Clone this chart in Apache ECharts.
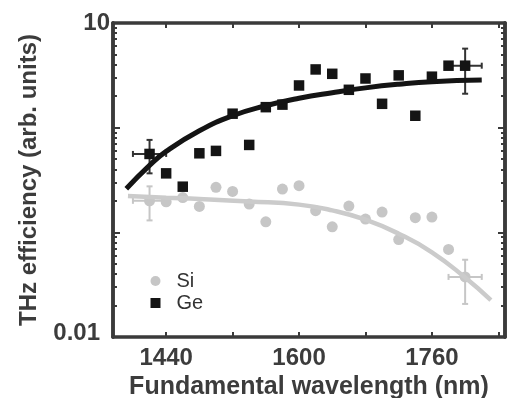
<!DOCTYPE html>
<html>
<head>
<meta charset="utf-8">
<script src="https://cdn.jsdelivr.net/npm/echarts@6/dist/echarts.min.js"></script>
<style>
  html, body { margin: 0; padding: 0; background: #fff; }
  #chart { width: 507px; height: 398px; }
</style>
</head>
<body>
<div id="chart"></div>
<script>
// measured points (nm)
var wavelengths = [1420, 1440, 1460, 1480, 1500, 1520, 1540, 1560, 1580, 1600,
                   1620, 1640, 1660, 1680, 1700, 1720, 1740, 1760, 1780, 1800];
var siValues = [0.200, 0.196, 0.215, 0.177, 0.269, 0.246, 0.186, 0.126, 0.259, 0.279,
                0.161, 0.113, 0.178, 0.134, 0.156, 0.0853, 0.138, 0.140, 0.0687, 0.0375];
var geValues = [0.561, 0.366, 0.273, 0.569, 0.600, 1.36, 0.684, 1.57, 1.66, 2.53,
                3.60, 3.27, 2.30, 2.95, 1.69, 3.16, 1.30, 3.07, 3.91, 3.91];

// error bars: [wavelength, value, +/- nm, low, high]
var siErrors = [[1420, 0.200, 20, 0.130, 0.275], [1800, 0.0375, 20, 0.0207, 0.0547]];
var geErrors = [[1420, 0.561, 20, 0.366, 0.764], [1800, 3.91, 20, 2.11, 5.69]];

// fitted curves
var siFitX = [1394, 1440, 1480, 1540, 1600, 1640, 1680, 1720, 1760, 1800, 1831];
var siFitY = [0.222, 0.214, 0.208, 0.197, 0.184, 0.162, 0.132, 0.097, 0.0645, 0.037, 0.0225];
var geFitX = [1392, 1420, 1440, 1480, 1520, 1560, 1600, 1640, 1680, 1720, 1760, 1820];
var geFitY = [0.261, 0.436, 0.593, 0.933, 1.30, 1.62, 1.91, 2.16, 2.40, 2.60, 2.75, 2.85];

// ticks
var xTicks = [1440, 1520, 1600, 1680, 1760, 1840];
var xLabels = [1440, 1600, 1760];
var yLabels = [0.01, 10];
var yMajor = [0.1, 1];
var yMinor = [0.02, 0.03, 0.04, 0.05, 0.06, 0.07, 0.08, 0.09,
              0.2, 0.3, 0.4, 0.5, 0.6, 0.7, 0.8, 0.9,
              2, 3, 4, 5, 6, 7, 8, 9];

var font = 'Liberation Sans, Arial, sans-serif';
var frame = '#3a3a3a';
var textColor = '#3c3c3c';
var siColor = '#c6c6c6';
var geColor = '#141414';

function zip(xs, ys) {
  return xs.map(function (x, i) { return [x, ys[i]]; });
}

function errorBars(color) {
  return function (params, api) {
    var x = api.value(0), y = api.value(1), dx = api.value(2);
    var c = api.coord([x, y]);
    var l = api.coord([x - dx, y]);
    var r = api.coord([x + dx, y]);
    var b = api.coord([x, api.value(3)]);
    var t = api.coord([x, api.value(4)]);
    var cap = 3;
    var st = { stroke: color, lineWidth: 2 };
    return {
      type: 'group',
      children: [
        { type: 'line', shape: { x1: l[0], y1: c[1], x2: r[0], y2: c[1] }, style: st },
        { type: 'line', shape: { x1: c[0], y1: t[1], x2: c[0], y2: b[1] }, style: st },
        { type: 'line', shape: { x1: l[0], y1: c[1] - cap, x2: l[0], y2: c[1] + cap }, style: st },
        { type: 'line', shape: { x1: r[0], y1: c[1] - cap, x2: r[0], y2: c[1] + cap }, style: st },
        { type: 'line', shape: { x1: c[0] - cap, y1: t[1], x2: c[0] + cap, y2: t[1] }, style: st },
        { type: 'line', shape: { x1: c[0] - cap, y1: b[1], x2: c[0] + cap, y2: b[1] }, style: st }
      ]
    };
  };
}

function xAxis(pos, withLabels) {
  return {
    type: 'value', position: pos, min: 1376, max: 1848,
    name: withLabels ? 'Fundamental wavelength (nm)' : '',
    nameLocation: 'middle', nameGap: 30,
    nameTextStyle: { fontFamily: font, fontSize: 25, fontWeight: 'bold', color: textColor },
    axisLine: { show: true, lineStyle: { color: frame, width: 3.5 } },
    axisTick: { show: true, inside: true, length: 5, customValues: xTicks, lineStyle: { color: frame, width: 2 } },
    axisLabel: {
      show: withLabels, customValues: xLabels, margin: 9,
      fontFamily: font, fontSize: 24, fontWeight: 'bold', color: textColor,
      formatter: function (v) { return String(v); }
    },
    splitLine: { show: false }
  };
}

function yAxis(pos, ticks, len, withLabels) {
  return {
    type: 'log', logBase: 10, position: pos, min: 0.01, max: 10,
    name: withLabels ? 'THz efficiency (arb. units)' : '',
    nameLocation: 'middle', nameGap: 72,
    nameTextStyle: { fontFamily: font, fontSize: 24, fontWeight: 'bold', color: textColor },
    axisLine: { show: true, lineStyle: { color: frame, width: 3.5 } },
    axisTick: { show: true, inside: true, length: len, customValues: ticks, lineStyle: { color: frame, width: 2 } },
    axisLabel: {
      show: withLabels, customValues: yLabels, margin: 3,
      fontFamily: font, fontSize: 24, fontWeight: 'bold', color: textColor,
      formatter: function (v) { return v < 0.1 ? '{lo|0.01}' : '{hi|10}'; },
      rich: {
        lo: { fontFamily: font, fontSize: 24, fontWeight: 'bold', color: textColor, padding: [0, 10, 8, 0] },
        hi: { fontFamily: font, fontSize: 24, fontWeight: 'bold', color: textColor }
      }
    },
    splitLine: { show: false }
  };
}

var chart = echarts.init(document.getElementById('chart'));
chart.setOption({
  animation: false,
  grid: { left: 113, right: 2, top: 23, bottom: 61, outerBoundsMode: 'none' },
  legend: {
    data: ['Si', 'Ge'], orient: 'vertical', left: 145.5, top: 266,
    itemWidth: 10, itemHeight: 10, itemGap: 2,
    textStyle: { fontFamily: font, fontSize: 20, color: '#333', padding: [0, 0, 0, 11] }
  },
  xAxis: [xAxis('bottom', true), xAxis('top', false)],
  yAxis: [
    yAxis('left', yMajor, 7, true),
    yAxis('left', yMinor, 4, false),
    yAxis('right', yMajor, 7, false),
    yAxis('right', yMinor, 4, false)
  ],
  series: [
    {
      name: 'Si err', type: 'custom', renderItem: errorBars(siColor),
      data: siErrors, z: 2, silent: true
    },
    {
      name: 'Ge err', type: 'custom', renderItem: errorBars('#333'),
      data: geErrors, z: 2, silent: true
    },
    {
      name: 'Si', type: 'scatter', symbol: 'circle', symbolSize: 11,
      itemStyle: { color: siColor, opacity: 1 }, z: 3,
      data: zip(wavelengths, siValues)
    },
    {
      name: 'Ge', type: 'scatter', symbol: 'rect', symbolSize: 10.5,
      itemStyle: { color: geColor, opacity: 1 }, z: 3,
      data: zip(wavelengths, geValues)
    },
    {
      name: 'Si fit', type: 'line', smooth: true, showSymbol: false, z: 4,
      lineStyle: { color: '#cbcbcb', width: 4.5 },
      data: zip(siFitX, siFitY)
    },
    {
      name: 'Ge fit', type: 'line', smooth: true, showSymbol: false, z: 4,
      lineStyle: { color: geColor, width: 5 },
      data: zip(geFitX, geFitY)
    }
  ]
});
</script>
</body>
</html>
